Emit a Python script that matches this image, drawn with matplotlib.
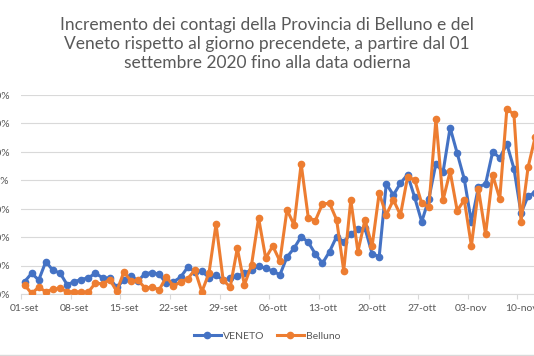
import matplotlib.pyplot as plt
import matplotlib.dates as mdates
import pandas as pd
from matplotlib.lines import Line2D

# daily increase (%), starting 01-set-2020
veneto = [0.43, 0.73, 0.49, 1.14, 0.83, 0.74, 0.33, 0.43, 0.51, 0.57,
          0.73, 0.57, 0.55, 0.23, 0.49, 0.65, 0.46, 0.72, 0.75, 0.69,
          0.37, 0.43, 0.59, 0.94, 0.79, 0.80, 0.58, 0.66, 0.49, 0.55,
          0.63, 0.73, 0.85, 0.99, 0.90, 0.81, 0.67, 1.30, 1.61, 2.02,
          1.82, 1.41, 1.08, 1.49, 2.02, 1.84, 2.11, 2.27, 2.31, 1.42,
          1.31, 3.88, 3.48, 3.90, 4.20, 3.40, 2.54, 3.35, 4.59, 4.28,
          5.85, 4.95, 4.04, 2.53, 3.77, 3.87, 5.00, 4.79, 5.28, 4.41,
          2.84, 3.45, 3.57]
belluno = [0.32, 0.02, 0.24, 0.08, 0.17, 0.20, 0.08, 0.08, 0.07, 0.07,
           0.39, 0.35, 0.51, 0.10, 0.77, 0.46, 0.48, 0.21, 0.24, 0.15,
           0.61, 0.27, 0.43, 0.53, 0.85, 0.08, 0.73, 2.46, 0.49, 0.24,
           1.61, 0.32, 1.02, 2.67, 1.26, 1.69, 1.16, 2.96, 2.43, 4.58,
           2.69, 2.58, 3.17, 3.19, 2.61, 0.82, 3.31, 1.49, 2.61, 1.68,
           3.55, 2.78, 3.31, 2.78, 4.11, 4.02, 3.19, 3.06, 6.15, 3.30,
           4.31, 2.93, 3.31, 1.69, 3.68, 2.10, 4.19, 3.35, 6.51, 6.32,
           2.54, 4.47, 5.53]
tick_labels = ['01-set', '08-set', '15-set', '22-set', '29-set', '06-ott',
               '13-ott', '20-ott', '27-ott', '03-nov', '10-nov']
y_labels = ['0,0%', '1,0%', '2,0%', '3,0%', '4,0%', '5,0%', '6,0%', '7,0%']

title = ("Incremento dei contagi della Provincia di Belluno e del\n"
         "Veneto rispetto al giorno precendete, a partire dal 01\n"
         "settembre 2020 fino alla data odierna")

plt.rcParams['font.family'] = ['Lato', 'DejaVu Sans']
grey = '#595959'

dates = pd.date_range('2020-09-01', periods=len(veneto), freq='D')
tick_dates = pd.date_range('2020-09-01', periods=len(tick_labels), freq='7D')

fig = plt.figure(figsize=(5.34, 3.56), dpi=100)
# plot area runs past the right edge (chart is cropped)
ax = fig.add_axes([21 / 534, 62 / 356, 535.5 / 534, 199 / 356])

ax.plot(dates, veneto, color='#4472C4', lw=2.2, marker='o', ms=4.5,
        label='VENETO', zorder=3)
ax.plot(dates, belluno, color='#ED7D31', lw=2.2, marker='o', ms=4.5,
        label='Belluno', zorder=4)

start = mdates.date2num(dates[0])
ax.set_xlim(start - 0.42, start + 75)
ax.set_ylim(0, 7)

ax.set_yticks(range(len(y_labels)))
ax.set_yticklabels(y_labels)
ax.yaxis.grid(True, color='#d9d9d9', lw=0.8)
ax.set_axisbelow(True)
ax.tick_params(axis='y', length=0, pad=8, labelsize=7.5, labelcolor=grey)

# tick marks sit half a day before each labelled date
tick_num = mdates.date2num(tick_dates)
ax.set_xticks(tick_num - 0.5)
ax.set_xticklabels([])
ax.set_xticks(tick_num, minor=True)
ax.set_xticklabels(tick_labels, minor=True)
ax.tick_params(axis='x', which='major', length=3.5, color='#d9d9d9')
ax.tick_params(axis='x', which='minor', length=0, pad=7, labelsize=7.5,
               labelcolor=grey)

for side in ['top', 'right', 'left']:
    ax.spines[side].set_visible(False)
ax.spines['bottom'].set_color('#d9d9d9')

fig.text(0.5, 1 - 44 / 356, title, ha='center', va='center',
         fontsize=12.5, color=grey, linespacing=1.25)

fig.legend(loc='center', bbox_to_anchor=(0.5, 20 / 356), ncol=2,
           frameon=False, fontsize=7.5, labelcolor=grey, handlelength=2.6,
           handletextpad=0.2, columnspacing=1.2)

fig.add_artist(Line2D([0, 1], [1.5 / 356, 1.5 / 356], color='#d9d9d9',
                      lw=1, transform=fig.transFigure))

fig.savefig('out.png', dpi=100)
